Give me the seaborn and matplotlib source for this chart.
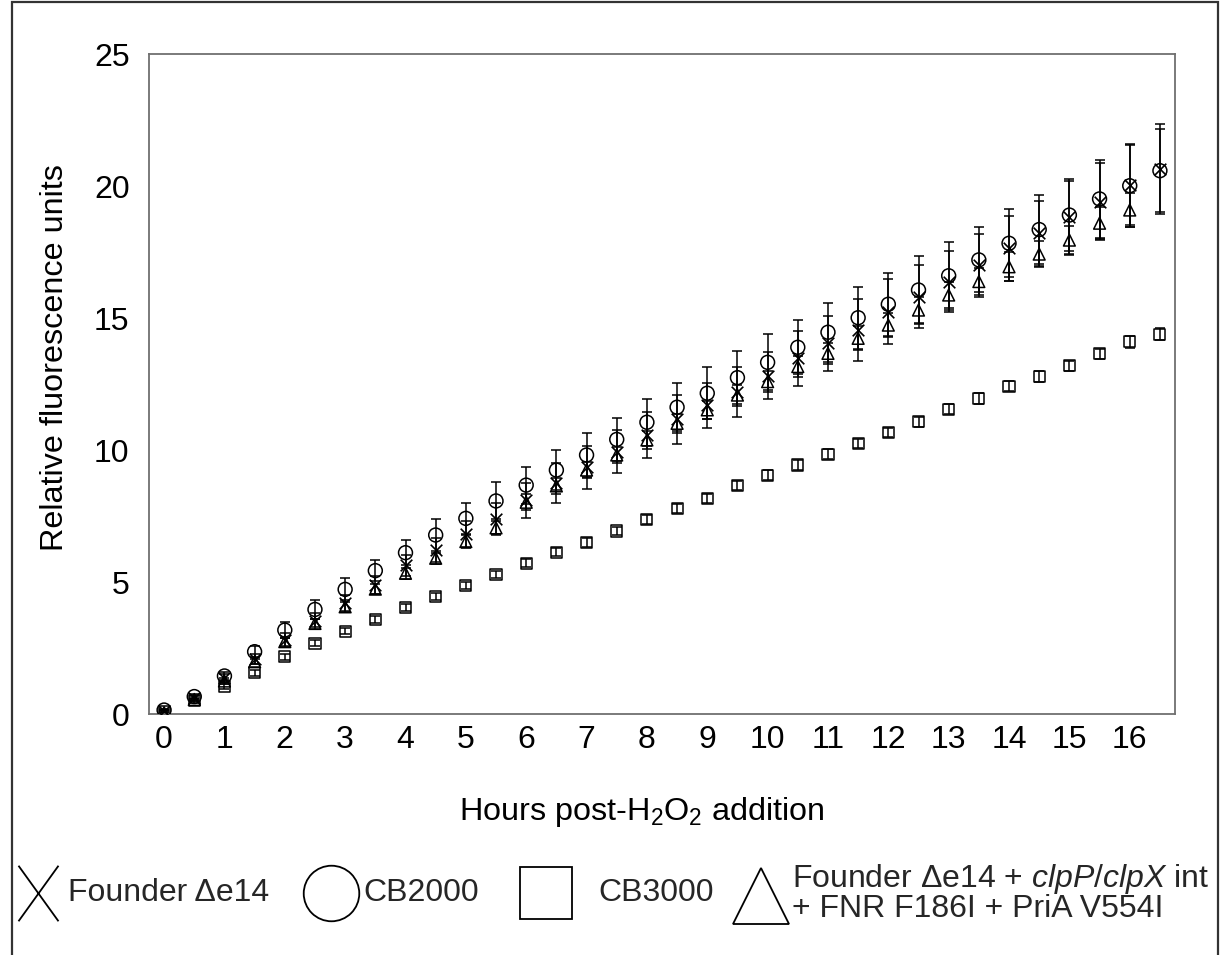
import numpy as np
import pandas as pd
import matplotlib
matplotlib.use("Agg")
import matplotlib.pyplot as plt
import seaborn as sns
from matplotlib.lines import Line2D
from matplotlib.patches import Rectangle
from matplotlib.path import Path

# ---------------- data ----------------
hours = [0, 0.5, 1, 1.5, 2, 2.5, 3, 3.5, 4, 4.5, 5, 5.5, 6, 6.5, 7, 7.5, 8, 8.5,
         9, 9.5, 10, 10.5, 11, 11.5, 12, 12.5, 13, 13.5, 14, 14.5, 15, 15.5, 16, 16.5]

founder = [0.10, 0.60, 1.36, 2.08, 2.80, 3.52, 4.20, 4.89, 5.64, 6.21, 6.82, 7.38,
           8.10, 8.74, 9.34, 9.94, 10.57, 11.16, 11.70, 12.21, 12.81, 13.47, 14.04, 14.55,
           15.24, 15.81, 16.38, 17.00, 17.64, 18.21, 18.81, 19.41, 20.04, 20.63]
founder_err = [0.05, 0.10, 0.15, 0.20, 0.25, 0.30, 0.30, 0.35, 0.40, 0.45, 0.50, 0.60,
               0.66, 0.76, 0.83, 0.82, 0.88, 0.94, 0.85, 0.95, 0.89, 1.05, 1.05, 1.17,
               1.22, 1.20, 1.16, 1.19, 1.23, 1.24, 1.39, 1.46, 1.50, 1.70]

cb2000 = [0.15, 0.66, 1.44, 2.36, 3.18, 3.96, 4.72, 5.43, 6.11, 6.78, 7.41, 8.07,
          8.67, 9.24, 9.81, 10.40, 11.05, 11.62, 12.15, 12.74, 13.32, 13.89, 14.46, 15.01,
          15.52, 16.06, 16.60, 17.20, 17.83, 18.35, 18.90, 19.51, 20.01, 20.58]
cb2000_err = [0.05, 0.10, 0.15, 0.20, 0.32, 0.36, 0.42, 0.40, 0.48, 0.60, 0.60, 0.70,
              0.70, 0.76, 0.82, 0.82, 0.88, 0.90, 0.98, 1.00, 1.06, 1.03, 1.12, 1.18,
              1.20, 1.30, 1.29, 1.23, 1.28, 1.31, 1.35, 1.49, 1.57, 1.58]

cb3000 = [0.09, 0.50, 1.03, 1.56, 2.17, 2.68, 3.14, 3.58, 4.03, 4.44, 4.86, 5.29,
          5.71, 6.12, 6.50, 6.93, 7.37, 7.79, 8.17, 8.65, 9.05, 9.43, 9.84, 10.25,
          10.66, 11.07, 11.55, 11.96, 12.42, 12.78, 13.19, 13.64, 14.10, 14.39]
cb3000_err = [0.05, 0.08, 0.10, 0.12, 0.12, 0.12, 0.12, 0.12, 0.12, 0.14, 0.14, 0.14,
              0.15, 0.15, 0.16, 0.16, 0.16, 0.18, 0.18, 0.18, 0.18, 0.18, 0.18, 0.18,
              0.18, 0.18, 0.20, 0.20, 0.20, 0.20, 0.20, 0.20, 0.22, 0.22]

evolved = [0.05, 0.55, 1.25, 1.98, 2.74, 3.43, 4.06, 4.73, 5.33, 5.90, 6.53, 7.05,
           8.02, 8.64, 9.24, 9.81, 10.38, 11.01, 11.52, 12.08, 12.59, 13.16, 13.66, 14.23,
           14.73, 15.30, 15.87, 16.38, 16.94, 17.42, 17.95, 18.59, 19.09, np.nan]
evolved_err = [0.05, 0.05, 0.10, 0.10, 0.15, 0.15, 0.20, 0.20, 0.20, 0.20, 0.25, 0.25,
               0.30, 0.30, 0.30, 0.30, 0.35, 0.35, 0.35, 0.40, 0.40, 0.40, 0.40, 0.45,
               0.45, 0.50, 0.50, 0.50, 0.55, 0.50, 0.55, 0.60, 0.65, np.nan]

labels = ["Founder \u0394e14", "CB2000", "CB3000",
          "Founder \u0394e14 + $\\mathit{clpP}$/$\\mathit{clpX}$ int\n+ FNR F186I + PriA V554I"]
x_ticks = list(range(0, 17))
y_ticks = [0, 5, 10, 15, 20, 25]

# ---------------- style ----------------
sns.set_theme(style="white")
plt.rcParams["font.family"] = ["Liberation Sans", "DejaVu Sans"]
plt.rcParams["mathtext.fontset"] = "custom"
plt.rcParams["mathtext.rm"] = "Liberation Sans"
plt.rcParams["mathtext.it"] = "Liberation Sans:italic"
plt.rcParams["mathtext.default"] = "regular"

W, H = 1221, 955
fig = plt.figure(figsize=(W / 100, H / 100), dpi=100)
fig.patch.set_facecolor("white")
ax = fig.add_axes([149 / W, 1 - 714 / H, (1175 - 149) / W, (714 - 54) / H])

series = [
    (founder, founder_err, "x", 70),
    (cb2000, cb2000_err, "o", 100),
    (cb3000, cb3000_err, "s", 64),
    (evolved, evolved_err, "^", 72),
]

for vals, errs, mk, size in series:
    df = pd.DataFrame({"hours": hours, "value": vals, "err": errs}).dropna()
    ax.errorbar(df["hours"], df["value"], yerr=df["err"], fmt="none",
                ecolor="black", elinewidth=1.1, capsize=3.5, capthick=1.1, zorder=2)
    if mk == "x":
        sns.scatterplot(data=df, x="hours", y="value", marker=mk, s=size,
                        color="black", linewidth=1.2, ax=ax, zorder=3)
    else:
        sns.scatterplot(data=df, x="hours", y="value", marker=mk, s=size,
                        facecolor="none", edgecolor="black", linewidth=1.1, ax=ax, zorder=3)

ax.set_xlim(-0.25, 16.75)
ax.set_ylim(0, 25)
ax.set_xticks(x_ticks)
ax.set_xticklabels([str(t) for t in x_ticks])
ax.set_yticks(y_ticks)
ax.set_yticklabels([str(t) for t in y_ticks])
ax.tick_params(axis="both", length=0, labelsize=23, colors="black")
ax.tick_params(axis="y", pad=14)
ax.tick_params(axis="x", pad=8)
for s in ax.spines.values():
    s.set_visible(True)
    s.set_color("#707070")
    s.set_linewidth(1.3)
ax.grid(False)

ax.set_xlabel("Hours post-H$_2$O$_2$ addition", fontsize=23.3, color="black")
ax.xaxis.set_label_coords((642 - 149) / (1175 - 149), (714 - 812) / (714 - 54))
ax.xaxis.label.set_va("center")
ax.set_ylabel("Relative fluorescence units", fontsize=23.3, color="black")
ax.yaxis.set_label_coords((55 - 149) / (1175 - 149), (714 - 358) / (714 - 54))
ax.yaxis.label.set_va("center")

# ---------------- legend (one entry each, placed like the original) ----------------
xpath = Path([(-0.36, -0.5), (0.36, 0.5), (-0.36, 0.5), (0.36, -0.5)],
             [Path.MOVETO, Path.LINETO, Path.MOVETO, Path.LINETO])
leg_specs = [
    (xpath, 40, 15, 0.22, 1.45, 0.0, 0),
    ("o", 40, 301, 0.1, 1.85, 0.0, 1),
    ("s", 38, 516, 0.72, 1.85, 0.0, 2),
    ("^", 40, 731, 0.05, 1.85, 0.2, 3),
]
for mk, ms, xleft, tpad, hlen, hh, i in leg_specs:
    h = Line2D([], [], marker=mk, markersize=ms, linestyle="none",
               markerfacecolor="none", markeredgecolor="black", markeredgewidth=1.3)
    leg = fig.legend(handles=[h], labels=[labels[i]], loc="center left",
                     bbox_to_anchor=(xleft / W, 1 - 893 / H), frameon=False,
                     fontsize=23, handletextpad=tpad, handlelength=hlen,
                     handleheight=hh, borderpad=0, borderaxespad=0)
    for t in leg.get_texts():
        t.set_linespacing(0.92)

# outer frame
fig.patches.append(Rectangle((12 / W, -0.02), (1218 - 12) / W, 1 - 2 / H + 0.02,
                             transform=fig.transFigure, fill=False,
                             edgecolor="#333333", linewidth=1.6))

fig.savefig("out.png", dpi=100)
